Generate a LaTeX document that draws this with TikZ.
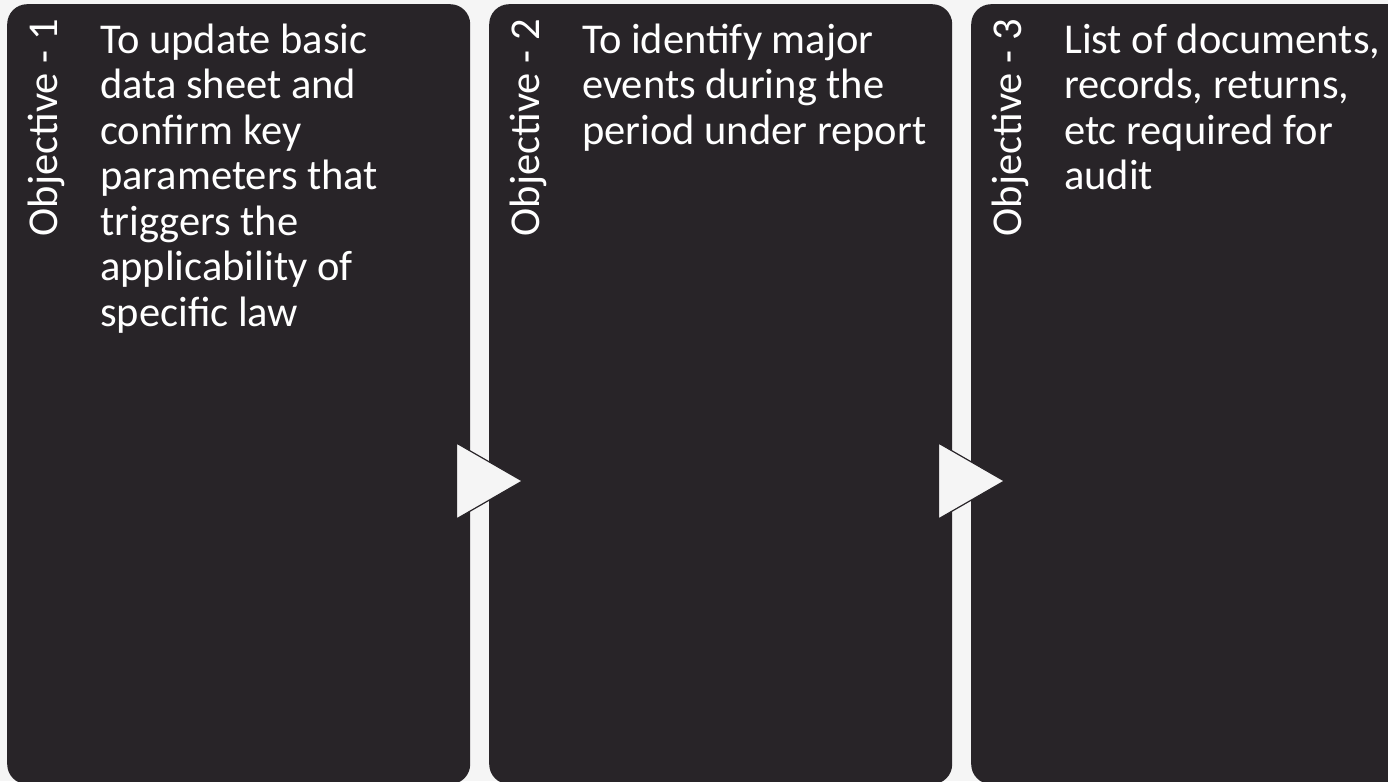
\documentclass[tikz,border=0pt]{standalone}
\usepackage{fontspec}
\setmainfont{Carlito}
\definecolor{panel}{HTML}{282428}
\definecolor{paper}{HTML}{F5F5F5}
\begin{document}
\begin{tikzpicture}[x=1pt,y=-1pt,
  panelbox/.style={fill=panel, draw=none, rounded corners=20pt, inner sep=0pt,
    minimum width=463pt, minimum height=780pt, anchor=north west},
  tag/.style={text=white, rotate=90, anchor=base east, inner sep=0pt,
    font=\fontsize{42.5}{45.5}\selectfont},
  body/.style={text=white, align=left, anchor=north west, inner sep=0pt,
    font=\fontsize{42.5}{45.5}\selectfont},
  pointer/.style={fill=paper, draw=panel, line width=1.2pt, line join=miter}]
  \useasboundingbox (0,0) rectangle (1388,781);
  \fill[paper] (0,0) rectangle (1388,781);
  \clip (0,0) rectangle (1388,781);

  % three objective panels
  \node[panelbox] (p1) at (7,4) {};
  \node[panelbox] (p2) at (489,4) {};
  \node[panelbox] (p3) at (971,4) {};

  % vertical headings
  \node[tag] (h1) at (57,19) {Objective - 1};
  \node[tag] (h2) at (539,19) {Objective - 2};
  \node[tag] (h3) at (1021,19) {Objective - 3};

  % panel texts (first baseline at y = 53, strut height 0.7 x 45.5)
  \node[body] (t1) at (100,21.15) {\strut To update basic\\data sheet and\\confirm key\\parameters that\\triggers the\\applicability of\\specific law};
  \node[body] (t2) at (582,21.15) {\strut To identify major\\events during the\\period under report};
  \node[body] (t3) at (1064,21.15) {\strut List of documents,\\records, returns,\\etc required for\\audit};

  % flow pointers between panels
  \draw[pointer] ([xshift=-14pt]p1.north east |- 0,443) -- ++(0,76) -- ++(66,-38) -- cycle;
  \draw[pointer] ([xshift=-14pt]p2.north east |- 0,443) -- ++(0,76) -- ++(66,-38) -- cycle;
\end{tikzpicture}
\end{document}
